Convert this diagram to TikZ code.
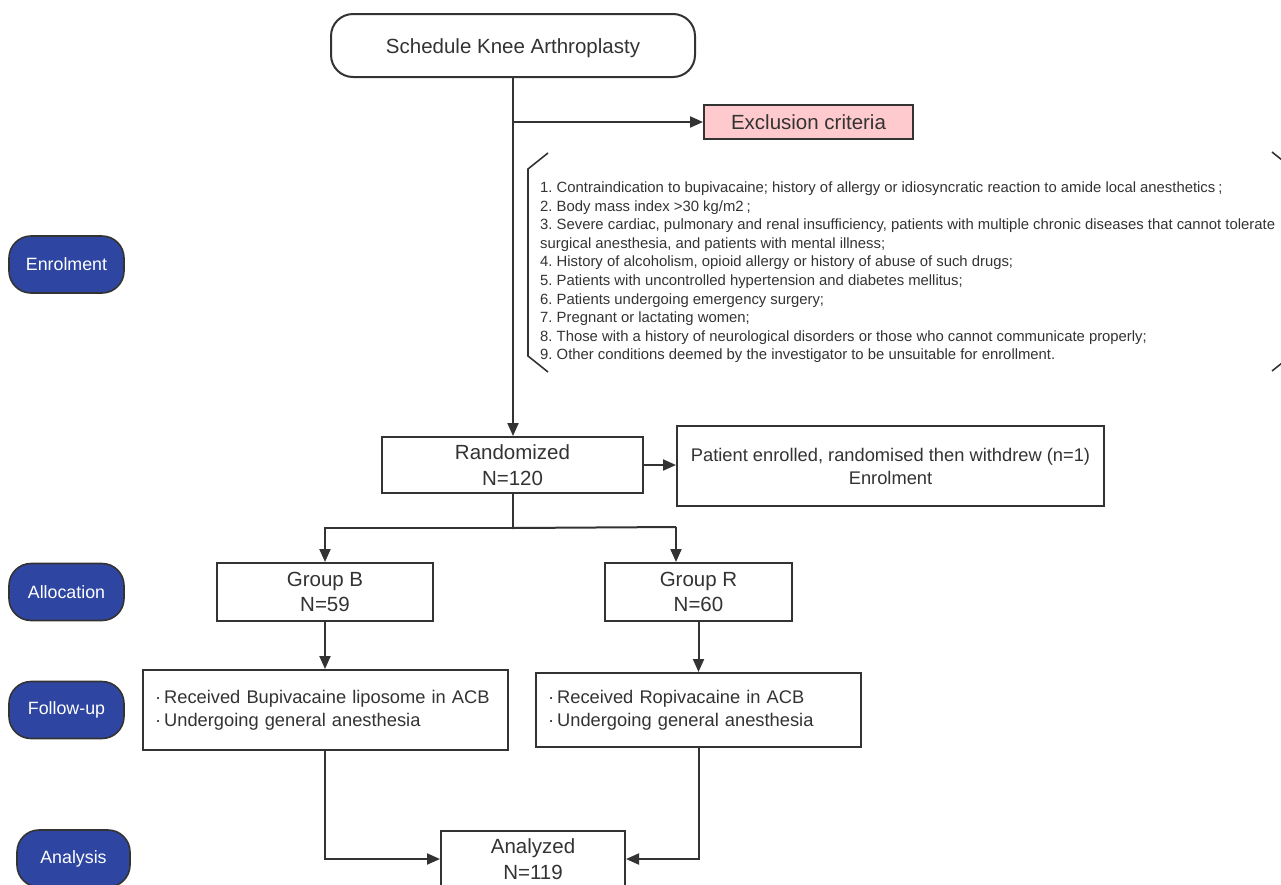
\documentclass[tikz,border=0pt]{standalone}
\usepackage{fontspec}
\setmainfont{Liberation Sans}
\usetikzlibrary{arrows.meta,calc}
\definecolor{ln}{HTML}{333333}
\definecolor{lblue}{HTML}{2E46A1}
\definecolor{pinkf}{HTML}{FFCACD}
\newcommand{\fmain}{\fontsize{20.5pt}{25.5pt}\selectfont}
\newcommand{\fsub}{\fontsize{18.3pt}{23pt}\selectfont}
\newcommand{\fcrit}{\fontsize{14.85pt}{18.6pt}\selectfont}
\newcommand{\flab}{\fontsize{17.8pt}{21pt}\selectfont}
\begin{document}
\frenchspacing
\begin{tikzpicture}[x=1pt,y=-1pt,
  every node/.style={text=ln},
  box/.style={draw=ln,line width=2pt,fill=white,align=center,inner sep=0pt,font=\fmain},
  stadium/.style={draw=ln,line width=1.6pt,fill=lblue,rounded corners=22pt,text=white,font=\flab,inner sep=0pt,minimum width=115pt,minimum height=57pt},
  conn/.style={draw=ln,line width=2pt},
  arr/.style={conn,-{Triangle[length=13pt,width=11pt]}},
  crit/.style={anchor=base west,inner sep=0pt,font=\fcrit}
]
\useasboundingbox (0,0) rectangle (1281,884);
\clip (0,0) rectangle (1281,884);

% left phase labels
\node[stadium] (enr) at (66.5,264.5) {Enrolment};
\node[stadium] (alloc) at (66.5,592) {Allocation};
\node[stadium] (fup) at (66.5,710) {Follow-up};
\node[stadium,minimum width=113pt] (ana) at (73.5,858.5) {Analysis};

% main boxes
\node[box,rounded corners=22pt,minimum width=364pt,minimum height=63pt,text height=20pt,text depth=4.3pt] (sched) at (513,45.5) {Schedule Knee Arthroplasty};
\node[box,fill=pinkf,minimum width=209pt,minimum height=34pt] (excl) at (808.5,122) {Exclusion criteria};
\node[box,minimum width=261pt,minimum height=56pt] (rand) at (512.5,465) {Randomized\\N=120};
\node[box,font=\fsub,minimum width=427pt,minimum height=80pt] (wd) at (890.5,466) {Patient enrolled, randomised then withdrew (n=1)\\Enrolment};
\node[box,minimum width=216pt,minimum height=58pt] (gB) at (325,592) {Group B\\N=59};
\node[box,minimum width=187pt,minimum height=58pt] (gR) at (698.5,592) {Group R\\N=60};
\node[box,font=\fsub,align=left,inner xsep=12pt,text width=341pt,minimum height=80pt] (fB) at (325.5,710) {·\,Received Bupivacaine liposome in ACB\\·\,Undergoing general anesthesia};
\node[box,font=\fsub,align=left,inner xsep=12pt,text width=301pt,minimum height=74pt] (fR) at (698.5,710) {·\,Received Ropivacaine in ACB\\·\,Undergoing general anesthesia};
\node[box,minimum width=184pt,minimum height=56pt] (an) at (533,859) {Analyzed\\N=119};

% exclusion criteria list
\node[crit] (c1) at (540,192.5) {1. Contraindication to bupivacaine; history of allergy or idiosyncratic reaction to amide local anesthetics\kern3pt;};
\node[crit] (c2) at (540,211.1) {2. Body mass index >30 kg/m2\kern3pt;};
\node[crit] (c3) at (540,229.7) {3. Severe cardiac, pulmonary and renal insufficiency, patients with multiple chronic diseases that cannot tolerate};
\node[crit] (c4) at (540,248.3) {surgical anesthesia, and patients with mental illness;};
\node[crit] (c5) at (540,266.9) {4. History of alcoholism, opioid allergy or history of abuse of such drugs;};
\node[crit] (c6) at (540,285.5) {5. Patients with uncontrolled hypertension and diabetes mellitus;};
\node[crit] (c7) at (540,304.1) {6. Patients undergoing emergency surgery;};
\node[crit] (c8) at (540,322.7) {7. Pregnant or lactating women;};
\node[crit] (c9) at (540,341.3) {8. Those with a history of neurological disorders or those who cannot communicate properly;};
\node[crit] (c10) at (540,359.9) {9. Other conditions deemed by the investigator to be unsuitable for enrollment.};

% brackets
\draw[conn,line width=1.6pt] (548,153) -- (528,169) -- (528,356) -- (548,372);
\draw[conn,line width=1.6pt] (1272,152) -- (1292,168) -- (1292,355) -- (1272,371);

% connectors
\draw[arr] (sched.south) -- (sched.south |- rand.north);
\draw[arr] (sched.south |- excl.west) -- (excl.west);
\draw[arr] (rand.east) -- (rand.east -| wd.west);
\coordinate (split) at ($(rand.south)+(0,34)$);
\coordinate (rj) at (676,527);
\draw[conn] (rand.south) -- (split);
\draw[arr] (split) -| (gB.north);
\draw[conn] (split) -- (rj);
\draw[arr] (rj) -- (rj |- gR.north);
\draw[arr] (gB.south) -- (gB.south |- fB.north);
\draw[arr] (gR.south) -- (gR.south |- fR.north);
\draw[arr] (fB.south -| gB.south) |- (an.west);
\draw[arr] (fR.south) |- (an.east);
\end{tikzpicture}
\end{document}
